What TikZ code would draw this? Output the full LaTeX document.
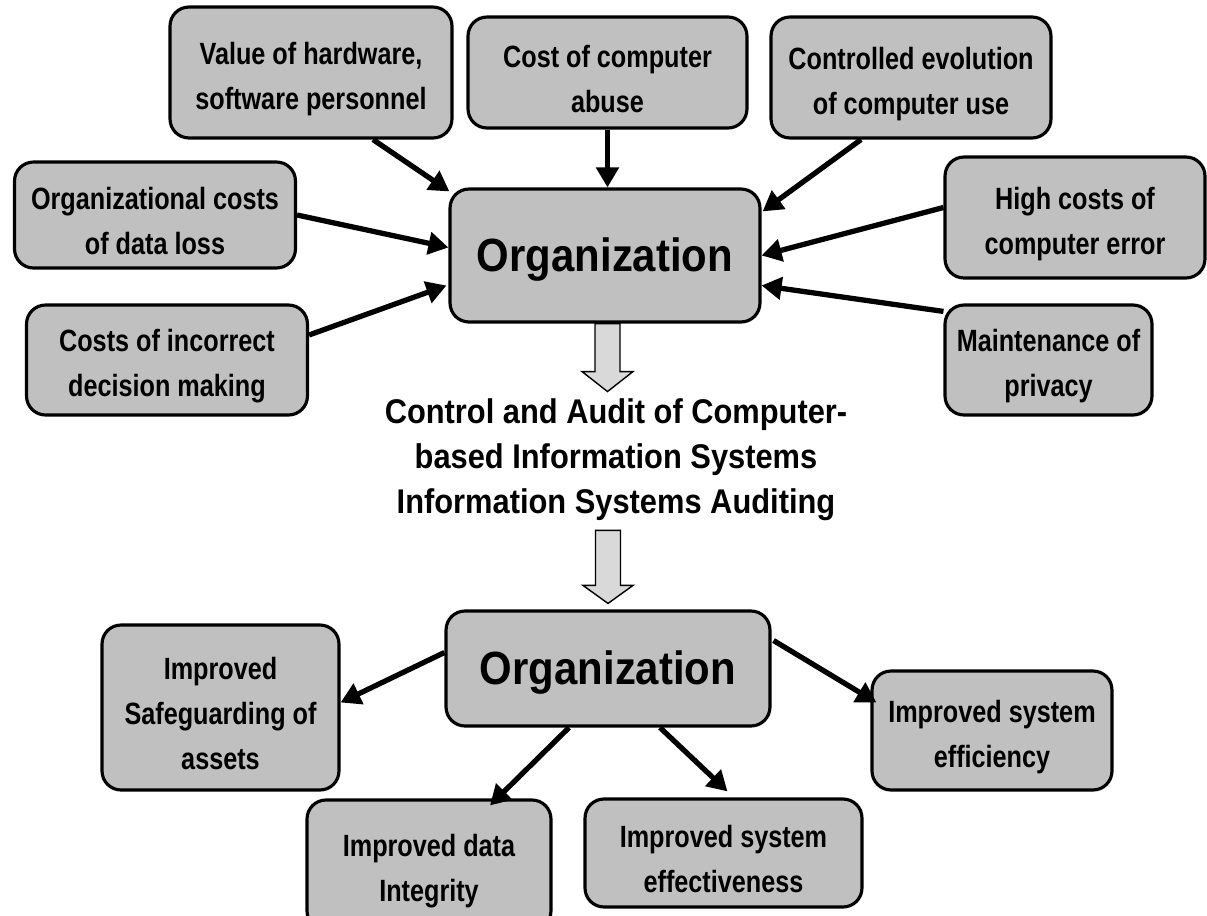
\documentclass[tikz,border=0pt]{standalone}
\usepackage{fontspec}
\setmainfont{Liberation Sans}[FakeStretch=0.9]
\newfontfamily\narrowfont{Liberation Sans}[FakeStretch=0.82]
\usetikzlibrary{arrows.meta,calc}
\definecolor{boxgray}{RGB}{192,192,192}
\definecolor{arrowgray}{RGB}{217,217,217}

\begin{document}
\begin{tikzpicture}[x=0.02cm,y=-0.02cm,
    box/.style={draw,line width=1.8pt,fill=boxgray,rounded corners=0.38cm,align=center,inner sep=0pt,font=\narrowfont\bfseries\fontsize{17.5}{25.5}\selectfont,text height=1.59cm},
    orgbox/.style={box,font=\bfseries\fontsize{26.5}{30}\selectfont,text height=0.85cm},
    link/.style={line width=3pt,-{Triangle[length=0.4cm,width=0.44cm]}},
    hollow/.style={draw,line width=0.8pt,fill=arrowgray,line join=miter}]
            \useasboundingbox (0,0) rectangle (1207,916);
            \node[box,minimum width=5.64cm,minimum height=2.62cm] (hw) at (311,72.5) {Value of hardware,\\software personnel};
            \node[box,minimum width=5.58cm,minimum height=2.22cm] (abuse) at (607.5,72.5) {Cost of computer\\abuse};
            \node[box,minimum width=5.6cm,minimum height=2.42cm] (ctrl) at (911,77.5) {Controlled evolution\\of computer use};
            \node[box,minimum width=5.62cm,minimum height=2.12cm] (loss) at (155,215) {Organizational costs\\of data loss};
            \node[box,minimum width=5.2cm,minimum height=2.42cm] (high) at (1075,217.5) {High costs of\\computer error};
            \node[orgbox,minimum width=6.2cm,minimum height=2.66cm] (orgA) at (605,255.5) {Organization};
            \node[box,minimum width=5.62cm,minimum height=2.2cm] (wrong) at (167,360) {Costs of incorrect\\decision making};
            \node[box,minimum width=4.14cm,minimum height=2.2cm] (priv) at (1048.5,360) {Maintenance of\\privacy};
            \node[font=\bfseries\fontsize{19.5}{25.5}\selectfont,align=center,inner sep=0pt] (audit) at (616,460) {Control and Audit of Computer-\\based Information Systems\\Information Systems Auditing};
            \node[orgbox,minimum width=6.48cm,minimum height=2.3cm] (orgB) at (608,668.5) {Organization};
            \node[box,minimum width=4.74cm,minimum height=3.3cm,text height=2.49cm] (safe) at (220.5,707.5) {Improved\\Safeguarding of\\assets};
            \node[box,minimum width=4.8cm,minimum height=2.38cm] (eff) at (992,730.5) {Improved system\\efficiency};
            \node[box,minimum width=4.88cm,minimum height=2.6cm] (integ) at (429,865) {Improved data\\Integrity};
            \node[box,minimum width=5.54cm,minimum height=2.16cm] (effv) at (723.5,853) {Improved system\\effectiveness};
            \draw[hollow] ($(orgA.south)+(-10,0)$) -- ++(0,48) -- ++(-13,0) -- ++(25.5,20) -- ++(25.5,-20) -- ++(-13,0) -- ++(0,-48) -- cycle;
            \draw[hollow] ($(orgB.north)+(-12.5,-79)$) -- ++(0,55) -- ++(-12.5,0) -- ++(25,18) -- ++(25,-18) -- ++(-12.5,0) -- ++(0,-55) -- cycle;
            \draw[link] ($(hw.south)+(62,0)$) -- ($(orgA.north west)+(1,4)$);
            \draw[link] (abuse.south) -- (abuse.south |- orgA.north);
            \draw[link] ($(ctrl.south)+(-50,0)$) -- ($(orgA.north east)+(1,24)$);
            \draw[link] (loss.east) -- ($(orgA.west)+(0,-8)$);
            \draw[link] ($(high.west)+(0,-10)$) -- (orgA.east);
            \draw[link] ($(wrong.east)+(0,-25)$) -- ($(orgA.west)+(-2,30)$);
            \draw[link] ($(priv.north west)+(0,8)$) -- ($(orgA.east)+(0,30)$);
            \draw[link] ($(orgB.west)+(0,-16)$) -- ($(safe.east)+(0,-5)$);
            \draw[link] ($(orgB.south)+(-39,0)$) -- ($(integ.north)+(61,7)$);
            \draw[link] ($(orgB.south)+(52,0)$) -- ($(effv.north)+(4,-6)$);
            \draw[link] ($(orgB.east)+(2,-28)$) -- ($(eff.west)+(6,-28)$);
        \end{tikzpicture}
\end{document}
